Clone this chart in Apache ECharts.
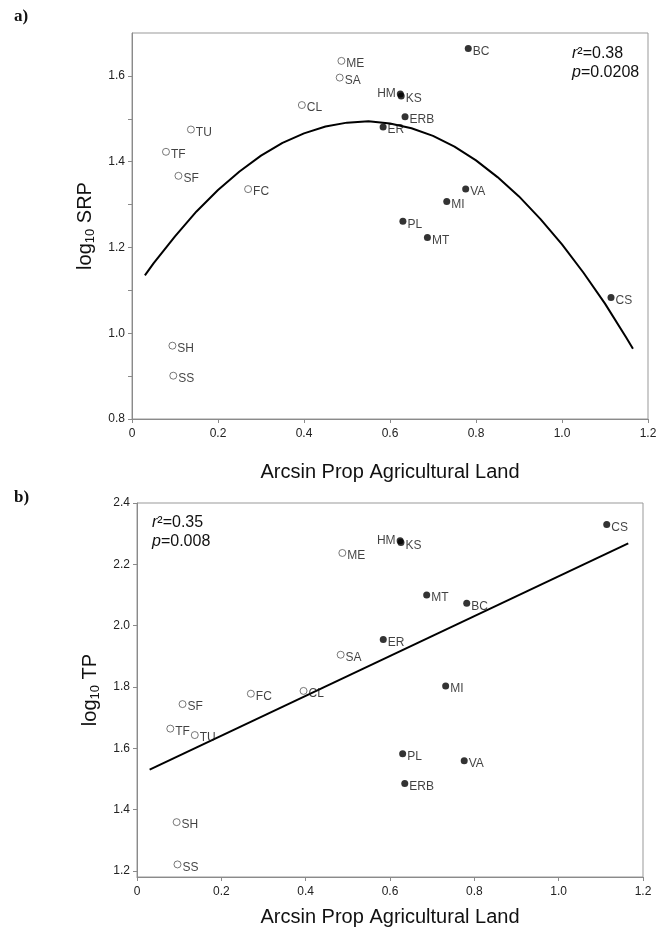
<!DOCTYPE html>
<html>
<head>
<meta charset="utf-8">
<script src="https://cdn.jsdelivr.net/npm/echarts@6/dist/echarts.min.js"></script>
<style>
  html, body { margin: 0; padding: 0; background: #fff; }
  #chart { width: 670px; height: 928px; }
</style>
</head>
<body>
<div id="chart"></div>
<script>
// sites, in the same order for every array below
var sites = ['ME', 'SA', 'CL', 'TU', 'TF', 'SF', 'FC', 'SH', 'SS',
             'BC', 'HM', 'KS', 'ERB', 'ER', 'VA', 'MI', 'PL', 'MT', 'CS'];
var openSites = ['ME', 'SA', 'CL', 'TU', 'TF', 'SF', 'FC', 'SH', 'SS'];
var agLand = [0.487, 0.483, 0.395, 0.137, 0.079, 0.108, 0.270, 0.094, 0.096,
              0.782, 0.624, 0.626, 0.635, 0.584, 0.776, 0.732, 0.630, 0.687, 1.114];
var logSRP = [1.635, 1.596, 1.532, 1.475, 1.423, 1.367, 1.336, 0.971, 0.901,
              1.664, 1.558, 1.553, 1.505, 1.481, 1.336, 1.307, 1.261, 1.223, 1.083];
var logTP = [2.237, 1.905, 1.787, 1.643, 1.664, 1.744, 1.778, 1.359, 1.221,
             2.073, 2.277, 2.271, 1.485, 1.955, 1.559, 1.803, 1.582, 2.100, 2.330];

// fitted lines
var srpFitX = [0.03, 0.05, 0.1, 0.15, 0.2, 0.25, 0.3, 0.35, 0.4, 0.45, 0.5, 0.55,
               0.6, 0.65, 0.7, 0.75, 0.8, 0.85, 0.9, 0.95, 1.0, 1.05, 1.1, 1.15, 1.165];
var srpFitY = [1.135, 1.163, 1.226, 1.284, 1.334, 1.377, 1.414, 1.444, 1.466, 1.482, 1.491, 1.494,
               1.489, 1.478, 1.460, 1.435, 1.403, 1.364, 1.319, 1.266, 1.207, 1.141, 1.069, 0.989, 0.964];
var tpFitX = [0.03, 1.165];
var tpFitY = [1.53, 2.268];

// ticks
var xTicks = [0, 0.2, 0.4, 0.6, 0.8, 1.0, 1.2];
var srpTicks = [0.8, 1.0, 1.2, 1.4, 1.6];
var srpMinor = [0.8, 0.9, 1.0, 1.1, 1.2, 1.3, 1.4, 1.5, 1.6];
var tpTicks = [1.2, 1.4, 1.6, 1.8, 2.0, 2.2, 2.4];

var FONT = '"Liberation Sans", Arial, sans-serif';
var AX = '#8a8a8a';

function points(yVals, open) {
  var out = [];
  sites.forEach(function (s, i) {
    if ((openSites.indexOf(s) >= 0) !== open) return;
    var d = { name: s, value: [agLand[i], yVals[i]] };
    if (s === 'HM') d.label = { position: 'left', offset: [0, 0] };
    out.push(d);
  });
  return out;
}

function pairs(xs, ys) {
  return xs.map(function (x, i) { return [x, ys[i]]; });
}

var ptLabel = {
  show: true, position: 'right', distance: 1, offset: [0, 3],
  formatter: function (p) { return p.name; },
  fontSize: 12, color: '#111', fontFamily: FONT
};

function xAxisOf(g) {
  return {
    type: 'value', gridIndex: g, min: 0, max: 1.2,
    axisLine: { show: true, lineStyle: { color: AX } },
    axisTick: { show: true, length: 4, customValues: xTicks, lineStyle: { color: AX } },
    splitLine: { show: false },
    axisLabel: {
      customValues: xTicks, margin: 9, fontSize: 12, color: '#222', fontFamily: FONT,
      formatter: function (v) { return v === 0 ? '0' : v.toFixed(1); }
    },
    name: 'Arcsin Prop Agricultural Land', nameLocation: 'middle',
    nameGap: g === 0 ? 43 : 30,
    nameTextStyle: { fontSize: 20, color: '#111', fontFamily: FONT }
  };
}

function yAxisOf(g, min, max, labels, ticks, word, gap) {
  return {
    type: 'value', gridIndex: g, min: min, max: max,
    axisLine: { show: true, lineStyle: { color: AX } },
    axisTick: { show: true, length: 4, customValues: ticks, lineStyle: { color: AX } },
    splitLine: { show: false },
    axisLabel: {
      customValues: labels, margin: 7, fontSize: 12, color: '#222', fontFamily: FONT,
      formatter: function (v) { return v.toFixed(1); }
    },
    name: '{a|log}{s|10}{a| ' + word + '}', nameLocation: 'middle', nameGap: gap,
    nameTextStyle: {
      fontFamily: FONT, color: '#111',
      rich: {
        a: { fontSize: 20, fontFamily: FONT, color: '#111' },
        s: { fontSize: 13, fontFamily: FONT, color: '#111', padding: [10, 0, 0, 0] }
      }
    }
  };
}

var chart = echarts.init(document.getElementById('chart'), null, { renderer: 'canvas' });

chart.setOption({
  animation: false,
  backgroundColor: '#fff',
  textStyle: { fontFamily: FONT },
  grid: [
    { left: 132, right: 22, top: 33, bottom: 509, show: true, borderColor: '#999', borderWidth: 1 },
    { left: 137, right: 27, top: 503, bottom: 47, show: true, borderColor: '#999', borderWidth: 1 }
  ],
  xAxis: [xAxisOf(0), xAxisOf(1)],
  yAxis: [
    yAxisOf(0, 0.8, 1.7, srpTicks, srpMinor, 'SRP', 32),
    yAxisOf(1, 1.18, 2.4, tpTicks, tpTicks, 'TP', 33)
  ],
  graphic: [
    { type: 'text', left: 14, top: 8, style: { text: 'a)', font: 'bold 17px "Liberation Serif", serif', fill: '#111' } },
    { type: 'text', left: 14, top: 489, style: { text: 'b)', font: 'bold 17px "Liberation Serif", serif', fill: '#111' } },
    { type: 'text', left: 572, top: 44, style: {
        text: '{i|r}²=0.38\n{i|p}=0.0208', fontSize: 16, fontFamily: FONT, fill: '#111', lineHeight: 19,
        rich: { i: { fontStyle: 'italic', fontSize: 16, fontFamily: FONT, fill: '#111' } } } },
    { type: 'text', left: 152, top: 513, style: {
        text: '{i|r}²=0.35\n{i|p}=0.008', fontSize: 16, fontFamily: FONT, fill: '#111', lineHeight: 19,
        rich: { i: { fontStyle: 'italic', fontSize: 16, fontFamily: FONT, fill: '#111' } } } }
  ],
  series: [
    { type: 'line', xAxisIndex: 0, yAxisIndex: 0, data: pairs(srpFitX, srpFitY), smooth: false,
      showSymbol: false, lineStyle: { color: '#000', width: 2, join: 'round' }, z: 3 },
    { type: 'line', xAxisIndex: 1, yAxisIndex: 1, data: pairs(tpFitX, tpFitY),
      showSymbol: false, lineStyle: { color: '#000', width: 2 }, z: 3 },
    { type: 'scatter', xAxisIndex: 0, yAxisIndex: 0, data: points(logSRP, true), symbolSize: 7,
      itemStyle: { color: '#fff', borderColor: '#444', borderWidth: 0.9 }, label: ptLabel, z: 4 },
    { type: 'scatter', xAxisIndex: 0, yAxisIndex: 0, data: points(logSRP, false), symbolSize: 7,
      itemStyle: { color: '#000' }, label: ptLabel, z: 4 },
    { type: 'scatter', xAxisIndex: 1, yAxisIndex: 1, data: points(logTP, true), symbolSize: 7,
      itemStyle: { color: '#fff', borderColor: '#444', borderWidth: 0.9 }, label: ptLabel, z: 4 },
    { type: 'scatter', xAxisIndex: 1, yAxisIndex: 1, data: points(logTP, false), symbolSize: 7,
      itemStyle: { color: '#000' }, label: ptLabel, z: 4 }
  ]
});
</script>
</body>
</html>
